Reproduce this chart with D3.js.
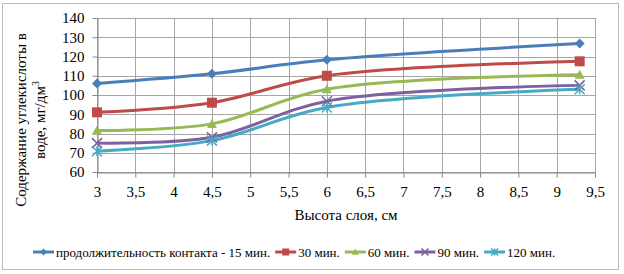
<!DOCTYPE html>
<html>
<head>
<meta charset="utf-8">
<script src="https://cdn.jsdelivr.net/npm/d3@7"></script>
<style>
  body { margin: 0; background: #fff; }
</style>
</head>
<body>
<svg width="624" height="274" font-family="Liberation Serif, serif"></svg>
<script>
var heights = [3, 4.5, 6, 9.3];
var seriesNames = ['продолжительность контакта - 15 мин.', '30 мин.', '60 мин.', '90 мин.', '120 мин.'];
var min15 = [106, 111, 118.3, 126.7];
var min30 = [91, 96, 110, 117.5];
var min60 = [81.5, 85, 103, 110.5];
var min90 = [75, 78, 96.8, 105];
var min120 = [70.8, 76.3, 93.5, 103];
var xTicks = [3, 3.5, 4, 4.5, 5, 5.5, 6, 6.5, 7, 7.5, 8, 8.5, 9, 9.5];
var yTicks = [60, 70, 80, 90, 100, 110, 120, 130, 140];

var colors = ['#4a7ebb', '#be4b48', '#98b954', '#7d60a0', '#46aac5'];
var markers = ['diamond', 'square', 'triangle', 'cross', 'star'];
var series = [min15, min30, min60, min90, min120].map((vals, i) => ({
    name: seriesNames[i],
    color: colors[i],
    marker: markers[i],
    points: vals.map((v, j) => [heights[j], v])
}));

var svg = d3.select('svg');
var serif = 'Liberation Serif, serif';
var fmt = d => String(d).replace('.', ',');

// outer frame
svg.append('rect')
    .attr('x', 2.5).attr('y', 3.5)
    .attr('width', 616).attr('height', 266)
    .attr('fill', '#fff')
    .attr('stroke', '#bcbcbc');

var x = d3.scaleLinear().domain([3, 9.5]).range([97, 595]);
var y = d3.scaleLinear().domain([60, 140]).range([172, 18]);

// grid
var grid = svg.append('g').attr('stroke', '#a6a6a6').attr('stroke-width', 1);
grid.selectAll('.vg').data(xTicks).enter().append('line')
    .attr('x1', d => Math.round(x(d)) + 0.5).attr('x2', d => Math.round(x(d)) + 0.5)
    .attr('y1', y(140)).attr('y2', y(60));
grid.selectAll('.hg').data(yTicks).enter().append('line')
    .attr('x1', x(3)).attr('x2', x(9.5))
    .attr('y1', d => Math.round(y(d)) + 0.5).attr('y2', d => Math.round(y(d)) + 0.5);

// axes
var xAxis = d3.axisBottom(x).tickValues(xTicks).tickFormat(fmt).tickSizeInner(5).tickSizeOuter(0).tickPadding(9);
var yAxis = d3.axisLeft(y).tickValues(yTicks).tickSizeInner(5).tickSizeOuter(0).tickPadding(8);

var gx = svg.append('g').attr('transform', 'translate(0,' + (Math.round(y(60)) + 0.5) + ')').call(xAxis);
var gy = svg.append('g').attr('transform', 'translate(' + (Math.round(x(3)) + 0.5) + ',0)').call(yAxis);
[gx, gy].forEach(g => {
    g.attr('font-family', serif).attr('font-size', 15);
    g.selectAll('path, line').attr('stroke', '#868686');
    g.selectAll('text').attr('fill', '#000');
});

// lines
var line = d3.line()
    .x(d => x(d[0]))
    .y(d => y(d[1]))
    .curve(d3.curveCatmullRom.alpha(0.5));

svg.selectAll('.series').data(series).enter().append('path')
    .attr('d', d => line(d.points))
    .attr('fill', 'none')
    .attr('stroke', d => d.color)
    .attr('stroke-width', 3)
    .attr('stroke-linejoin', 'round');

function drawMarker(g, type, color, s) {
    if (type === 'diamond') {
        g.append('path').attr('d', `M0,${-s}L${s},0L0,${s}L${-s},0Z`).attr('fill', color);
    } else if (type === 'square') {
        g.append('rect').attr('x', -s).attr('y', -s).attr('width', 2 * s).attr('height', 2 * s).attr('fill', color);
    } else if (type === 'triangle') {
        g.append('path').attr('d', `M0,${-s}L${s},${s * 0.8}L${-s},${s * 0.8}Z`).attr('fill', color);
    } else if (type === 'cross') {
        g.append('path').attr('d', `M${-s},${-s}L${s},${s}M${s},${-s}L${-s},${s}`)
            .attr('stroke', color).attr('stroke-width', 1.5);
    } else {
        g.append('path').attr('d', `M${-s},${-s}L${s},${s}M${s},${-s}L${-s},${s}M0,${-s}L0,${s}`)
            .attr('stroke', color).attr('stroke-width', 1.5);
    }
}

series.forEach(sr => {
    sr.points.forEach(p => {
        var g = svg.append('g').attr('transform', `translate(${x(p[0])},${y(p[1])})`);
        drawMarker(g, sr.marker, sr.color, 5);
    });
});

// axis titles
svg.append('text')
    .attr('x', 346).attr('y', 220)
    .attr('text-anchor', 'middle')
    .attr('font-family', serif)
    .attr('font-size', 15)
    .text('Высота слоя, см');

var yt = svg.append('text')
    .attr('transform', 'translate(0,120) rotate(-90)')
    .attr('text-anchor', 'middle')
    .attr('font-family', serif)
    .attr('font-size', 15);
yt.append('tspan').attr('x', 0).attr('y', 26).text('Содержание углекислоты в');
var t2 = yt.append('tspan').attr('x', 0).attr('y', 45);
t2.append('tspan').text('воде, мг/дм');
t2.append('tspan').attr('dy', -6).attr('font-size', 10).text('3');

// legend, laid out from measured text widths
var legend = svg.append('g').attr('transform', 'translate(33,252)');
var lx = 0;
series.forEach(sr => {
    var g = legend.append('g').attr('transform', `translate(${lx},0)`);
    g.append('line').attr('x1', 0).attr('x2', 21).attr('y1', 0).attr('y2', 0)
        .attr('stroke', sr.color).attr('stroke-width', 3);
    var m = g.append('g').attr('transform', 'translate(10.5,0)');
    drawMarker(m, sr.marker, sr.color, 3.5);
    var t = g.append('text').attr('x', 23).attr('y', 4.5)
        .attr('font-family', serif)
        .attr('font-size', 13).text(sr.name);
    lx += 23 + t.node().getComputedTextLength() + 5;
});
</script>
</body>
</html>
